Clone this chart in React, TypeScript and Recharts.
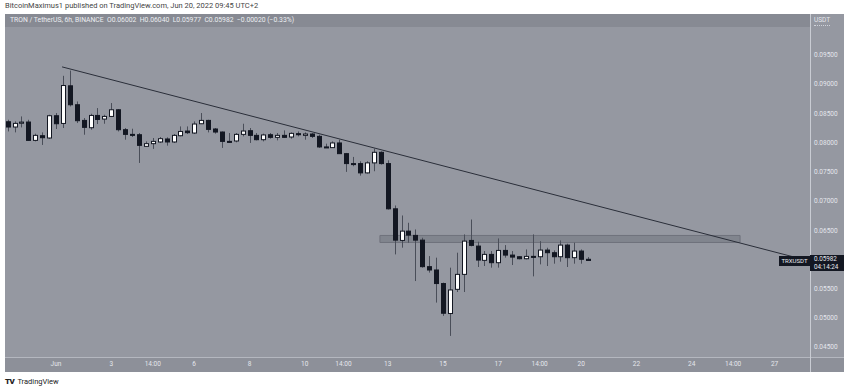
import { ComposedChart, Bar, XAxis, YAxis, ReferenceLine, ReferenceArea } from "recharts";

// 6h candles, TRX/USDT. Time axis is in days counted from Jun 1.
const firstCandleDay = -1.75;
const candleStep = 0.25;

const opens = [
  0.08356, 0.08266, 0.0833, 0.08351, 0.08037, 0.08117, 0.08078, 0.08459, 0.08327, 0.08971,
  0.08647, 0.08379, 0.08254, 0.08464, 0.08402, 0.08447, 0.08561, 0.0822, 0.0814, 0.08134,
  0.07935, 0.07981, 0.0801, 0.08061, 0.0801, 0.08117, 0.08197, 0.08163, 0.08322, 0.08379,
  0.08232, 0.0818, 0.0802, 0.08027, 0.0814, 0.08203, 0.08123, 0.08049, 0.08134, 0.08089,
  0.08123, 0.08095, 0.08152, 0.08123, 0.08146, 0.08106, 0.07925, 0.07913, 0.07993, 0.0781,
  0.0764, 0.0764, 0.07481, 0.07652, 0.07833, 0.0764, 0.06866, 0.06325, 0.06484, 0.06411,
  0.0633, 0.05876, 0.05819, 0.05587, 0.05074, 0.05488, 0.05744, 0.06325, 0.06228, 0.05984,
  0.06086, 0.05944, 0.06154, 0.06074, 0.06046, 0.06012, 0.06052, 0.06046, 0.0616, 0.06115,
  0.06046, 0.06245, 0.0603, 0.06143, 0.06002,
];
const highs = [
  0.0839, 0.08362, 0.08447, 0.0839, 0.08152, 0.08174, 0.08476, 0.08505, 0.09142, 0.09232,
  0.08703, 0.0842, 0.08493, 0.0859, 0.08476, 0.08676, 0.08573, 0.08249, 0.08237, 0.08163,
  0.0802, 0.08078, 0.08095, 0.08089, 0.08146, 0.08276, 0.08276, 0.08362, 0.08505, 0.0839,
  0.08249, 0.0819, 0.08163, 0.08163, 0.08322, 0.08249, 0.08163, 0.08152, 0.08163, 0.08163,
  0.08208, 0.08174, 0.0819, 0.08174, 0.08163, 0.08134, 0.07981, 0.0802, 0.08049, 0.07822,
  0.07754, 0.0768, 0.0768, 0.07896, 0.0785, 0.07696, 0.06923, 0.06752, 0.06627, 0.06513,
  0.06371, 0.06057, 0.0603, 0.05603, 0.05859, 0.06115, 0.06428, 0.06683, 0.06303, 0.06143,
  0.06143, 0.06359, 0.06245, 0.06143, 0.06057, 0.06171, 0.06428, 0.06313, 0.062, 0.06154,
  0.06325, 0.06269, 0.06286, 0.06171, 0.0604,
];
const lows = [
  0.0819, 0.08174, 0.08259, 0.0803, 0.0802, 0.07959, 0.08061, 0.08232, 0.08249, 0.08618,
  0.08334, 0.08134, 0.0822, 0.08317, 0.08322, 0.08436, 0.0819, 0.08049, 0.08095, 0.07651,
  0.07924, 0.07891, 0.07993, 0.07947, 0.07993, 0.08106, 0.08146, 0.08146, 0.08317, 0.08174,
  0.08152, 0.07908, 0.07993, 0.08004, 0.08106, 0.07993, 0.08037, 0.0802, 0.08066, 0.08037,
  0.08078, 0.08066, 0.08106, 0.08049, 0.08078, 0.07908, 0.07908, 0.07908, 0.07805, 0.07498,
  0.07594, 0.07434, 0.07469, 0.07509, 0.07623, 0.06854, 0.06086, 0.06201, 0.06286, 0.0563,
  0.05859, 0.05774, 0.05261, 0.05033, 0.04691, 0.05442, 0.05442, 0.06223, 0.0587, 0.05887,
  0.05859, 0.05859, 0.0603, 0.05904, 0.06001, 0.06001, 0.0571, 0.05915, 0.05887, 0.05927,
  0.05961, 0.0587, 0.05927, 0.05927, 0.05977,
];
const closes = [
  0.08266, 0.08328, 0.0835, 0.08037, 0.08123, 0.08083, 0.08459, 0.08322, 0.08976, 0.08647,
  0.08374, 0.0826, 0.08464, 0.08395, 0.08447, 0.08561, 0.0822, 0.0814, 0.0813, 0.07952,
  0.07981, 0.0802, 0.08066, 0.0801, 0.08123, 0.0819, 0.08169, 0.08317, 0.08379, 0.08225,
  0.0818, 0.0802, 0.0801, 0.0814, 0.08197, 0.08123, 0.08049, 0.0813, 0.08089, 0.08123,
  0.08089, 0.08157, 0.08134, 0.08146, 0.08106, 0.07925, 0.07913, 0.07993, 0.0781, 0.0764,
  0.07634, 0.07481, 0.07652, 0.07833, 0.0764, 0.06866, 0.0633, 0.06484, 0.06416, 0.0633,
  0.05876, 0.05819, 0.05587, 0.05079, 0.05477, 0.05744, 0.06313, 0.0624, 0.05989, 0.06086,
  0.05944, 0.06154, 0.06074, 0.0604, 0.06012, 0.06052, 0.0604, 0.0616, 0.06115, 0.06046,
  0.06245, 0.0603, 0.06143, 0.06002, 0.05982,
];

const xTicks = [0, 2, 3.5, 5, 7, 9, 10.4, 12, 14, 16, 17.5, 19, 21, 23, 24.5, 26];
const xTickLabels = ["Jun", "3", "14:00", "6", "8", "10", "14:00", "13", "15", "17", "14:00", "20", "22", "24", "14:00", "27"];
const yTicks = [0.045, 0.05, 0.055, 0.065, 0.07, 0.075, 0.08, 0.085, 0.09, 0.095];

// falling trendline and the grey resistance zone
const trendDays = [0.22, 27.28];
const trendValues = [0.09295, 0.0597];
const zoneDays = [11.72, 24.75];
const zoneValues = [0.0629, 0.0641];

const candles = opens.map((open, i) => ({
  day: firstCandleDay + i * candleStep,
  open,
  high: highs[i],
  low: lows[i],
  close: closes[i],
}));

const DARK = "#131722";
const WICK = "#4a4e59";
const AXIS_TEXT = "#e4e6ec";

function Candle(props: any) {
  const { x, y, width, height, payload } = props;
  if (x == null || y == null || !payload) return null;
  const { open, close, high, low } = payload;
  const top = Math.min(y, y + height);
  const h = Math.abs(height);
  const range = high - low;
  const toY = (v: number) => (range === 0 ? top : top + ((high - v) / range) * h);
  const cx = Math.round(x + width / 2);
  const up = close >= open;
  const bodyTop = toY(Math.max(open, close));
  const bodyBottom = toY(Math.min(open, close));
  return (
    <g>
      <line x1={cx + 0.5} x2={cx + 0.5} y1={top} y2={top + h} stroke={WICK} strokeWidth={1} />
      <rect
        x={cx - 1.5}
        y={bodyTop}
        width={4}
        height={Math.max(1, bodyBottom - bodyTop)}
        fill={up ? "#ffffff" : DARK}
        stroke={DARK}
        strokeWidth={1}
      />
    </g>
  );
}

export default function App() {
  return (
    <div style={{ position: "relative", width: 850, height: 390, background: "#fff", fontFamily: "Roboto, 'Noto Sans', sans-serif" }}>
      <style>{"body{margin:0}"}</style>
      <div style={{ position: "absolute", left: 5, top: 1, fontSize: 7.5, color: "#444" }}>
        BitcoinMaximus1 published on TradingView.com, Jun 20, 2022 09:45 UTC+2
      </div>
      {/* panel */}
      <div style={{ position: "absolute", left: 5, top: 14, width: 839, height: 358, background: "#9598a1" }} />
      <div style={{ position: "absolute", left: 5, top: 14, width: 805, height: 13, background: "#878a93" }} />
      <div style={{ position: "absolute", left: 5, top: 357, width: 839, height: 15, background: "#8d9099", borderTop: "1px solid #b4b7bf", boxSizing: "border-box" }} />
      <div style={{ position: "absolute", left: 810, top: 14, width: 1, height: 358, background: "#c9ccd3" }} />
      <div style={{ position: "absolute", left: 10, top: 16, fontSize: 6.8, color: "#eceef2", whiteSpace: "nowrap" }}>
        TRON / TetherUS, 6h, BINANCE&nbsp;&nbsp;O0.06002&nbsp;&nbsp;H0.06040&nbsp;&nbsp;L0.05977&nbsp;&nbsp;C0.05982&nbsp;&nbsp;−0.00020 (−0.33%)
      </div>
      <div style={{ position: "absolute", left: 814, top: 16, fontSize: 6.5, color: AXIS_TEXT, borderBottom: "1px dotted #d0d3da", paddingBottom: 1 }}>
        USDT
      </div>

      <div style={{ position: "absolute", left: 0, top: 0 }}>
        <ComposedChart width={850} height={390} data={candles} margin={{ top: 14, right: 0, bottom: 0, left: 5 }}>
          <XAxis
            type="number"
            dataKey="day"
            domain={[-1.845, 27.28]}
            allowDataOverflow
            ticks={xTicks}
            interval={0}
            tickFormatter={(v: number) => xTickLabels[xTicks.indexOf(v)] ?? ""}
            axisLine={false}
            tickLine={false}
            tickSize={0}
            tickMargin={4.5}
            height={33}
            tick={{ fill: AXIS_TEXT, fontSize: 6.5 }}
          />
          <YAxis
            orientation="right"
            type="number"
            domain={[0.0433, 0.102]}
            allowDataOverflow
            ticks={yTicks}
            interval={0}
            tickFormatter={(v: number) => v.toFixed(5)}
            axisLine={false}
            tickLine={false}
            tickSize={0}
            tickMargin={4}
            width={40}
            tick={{ fill: AXIS_TEXT, fontSize: 6.5 }}
          />
          <ReferenceArea
            x1={zoneDays[0]}
            x2={zoneDays[1]}
            y1={zoneValues[0]}
            y2={zoneValues[1]}
            fill="#5d606b"
            fillOpacity={0.35}
            stroke="#6f727c"
            strokeWidth={1}
            ifOverflow="visible"
          />
          <Bar
            dataKey={(d: any) => [d.low, d.high]}
            barSize={5}
            shape={<Candle />}
            isAnimationActive={false}
          />
          <ReferenceLine
            segment={[
              { x: trendDays[0], y: trendValues[0] },
              { x: trendDays[1], y: trendValues[1] },
            ]}
            stroke="#2a2e39"
            strokeWidth={1}
            ifOverflow="visible"
          />
        </ComposedChart>
      </div>

      {/* last price label */}
      <div style={{ position: "absolute", left: 779, top: 256, width: 31, height: 10, background: DARK, color: "#e8eaef", fontSize: 6, lineHeight: "10px", textAlign: "center" }}>
        TRXUSDT
      </div>
      <div style={{ position: "absolute", left: 810, top: 255, width: 34, height: 16, background: DARK, color: "#e8eaef", fontSize: 6.3, lineHeight: "7.5px", paddingLeft: 4, boxSizing: "border-box", paddingTop: 1 }}>
        <div>0.05982</div>
        <div>04:14:24</div>
      </div>

      <div style={{ position: "absolute", left: 5, top: 377, fontSize: 7.5, color: "#222", display: "flex", alignItems: "center", gap: 3 }}>
        <span style={{ fontWeight: 900, fontSize: 8, letterSpacing: -0.5 }}>TV</span>
        <span>TradingView</span>
      </div>
    </div>
  );
}
